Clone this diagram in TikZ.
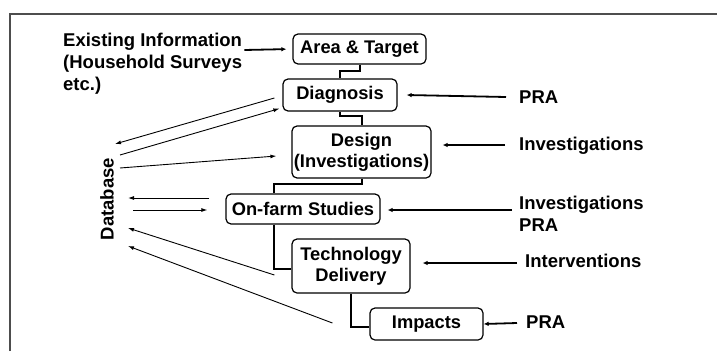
\documentclass[tikz,border=0pt]{standalone}
\usepackage{fontspec}
\setmainfont{Liberation Sans}
\usepackage{tikz}
\usetikzlibrary{calc,arrows.meta}
\definecolor{framegray}{HTML}{4D4D4D}
\tikzset{
  box/.style={draw=black, fill=white, rounded corners=5pt, line width=1.2pt,
    inner sep=0pt, align=center, font=\bfseries\fontsize{18.3}{21}\selectfont},
  lab/.style={inner sep=0pt, align=left, font=\bfseries\fontsize{18.5}{22}\selectfont},
  link/.style={draw=black, line width=2pt},
  feed/.style={draw=black, line width=1.8pt, -{Latex[length=5pt,width=4.5pt]}},
  thin/.style={draw=black, line width=0.9pt, -{Latex[length=6pt,width=4pt]}},
  frame/.style={draw=framegray, line width=2pt},
}
\begin{document}
\begin{tikzpicture}[x=1pt, y=-1pt]
  \useasboundingbox (0,0) rectangle (717,351);

  % outer frame
  \draw[frame] (10,351) -- (10,14) -- (717,14);

  % stages
  \node[box, minimum width=133, minimum height=30] (area) at (359.5,49) {Area \& Target};
  \node[box, minimum width=114, minimum height=32] (diag) at (340,95) {Diagnosis};
  \node[box, minimum width=139, minimum height=52] (design) at (361.5,152) {Design\\(Investigations)};
  \node[box, minimum width=154, minimum height=30] (onfarm) at (303,209) {On-farm Studies};
  \node[box, minimum width=118, minimum height=54] (tech) at (351,266) {Technology\\Delivery};
  \node[box, minimum width=113, minimum height=32] (impacts) at (426.5,324) {Impacts};

  % steps between stages
  \draw[link] (area.south) -- ++(0,6) -| (diag.north);
  \draw[link] (diag.south) -- ++(0,4) -| (design.north);
  \draw[link] (design.south) -- ++(0,5) -| ([xshift=-29]onfarm.north);
  \draw[link] ([xshift=-29]onfarm.south) |- ([yshift=-3]tech.west);
  \draw[link] (tech.south) |- ([yshift=-3]impacts.west);

  % inputs
  \node[lab, anchor=north west] (exist) at (63,33) {Existing Information\\(Household Surveys\\etc.)};
  \draw[feed, shorten >=6pt] ($(exist.north east)+(2,17)$) -- (area.west);

  \node[lab, anchor=west] (pra1) at (519,97) {PRA};
  \draw[feed] ($(pra1.west)+(-13,0)$) -- ($(diag.east)+(9,0)$);
  \node[lab, anchor=west] (inv1) at (519,146) {Investigations};
  \draw[feed] ($(inv1.west)+(-14,-1)$) -- ($(design.east)+(11,-7)$);
  \node[lab, anchor=west] (inv2) at (519,214) {Investigations\\PRA};
  \draw[feed] ($(inv2.west)+(-7,-4)$) -- ($(onfarm.east)+(7,1)$);
  \node[lab, anchor=west] (intv) at (525,261) {Interventions};
  \draw[feed] ($(intv.west)+(-8,2)$) -- ($(tech.east)+(12,-3)$);
  \node[lab, anchor=west] (pra2) at (526,322) {PRA};
  \draw[feed] ($(pra2.west)+(-9,1)$) -- (impacts.east);

  % database links
  \node[lab, rotate=90] (db) at (107,199) {Database};
  \coordinate (db1) at (115,144);
  \coordinate (db2) at (120,155);
  \coordinate (db3) at (120,168);
  \coordinate (db4) at (128,198);
  \coordinate (db5) at (133,210);
  \coordinate (db6) at (128,228);
  \coordinate (db7) at (128,246);
  \draw[thin] ($(diag.west)+(-8,3)$) -- (db1);
  \draw[thin] (db2) -- ($(diag.south west)+(-3,-3)$);
  \draw[thin] (db3) -- ($(design.west)+(-15,4)$);
  \draw[thin] ($(onfarm.west)+(-16,-11)$) -- (db4);
  \draw[thin] (db5) -- ($(onfarm.west)+(-18,1)$);
  \draw[thin] ($(tech.west)+(-17,9)$) -- (db6);
  \draw[thin] ($(impacts.west)+(-37,-1)$) -- (db7);
\end{tikzpicture}
\end{document}
